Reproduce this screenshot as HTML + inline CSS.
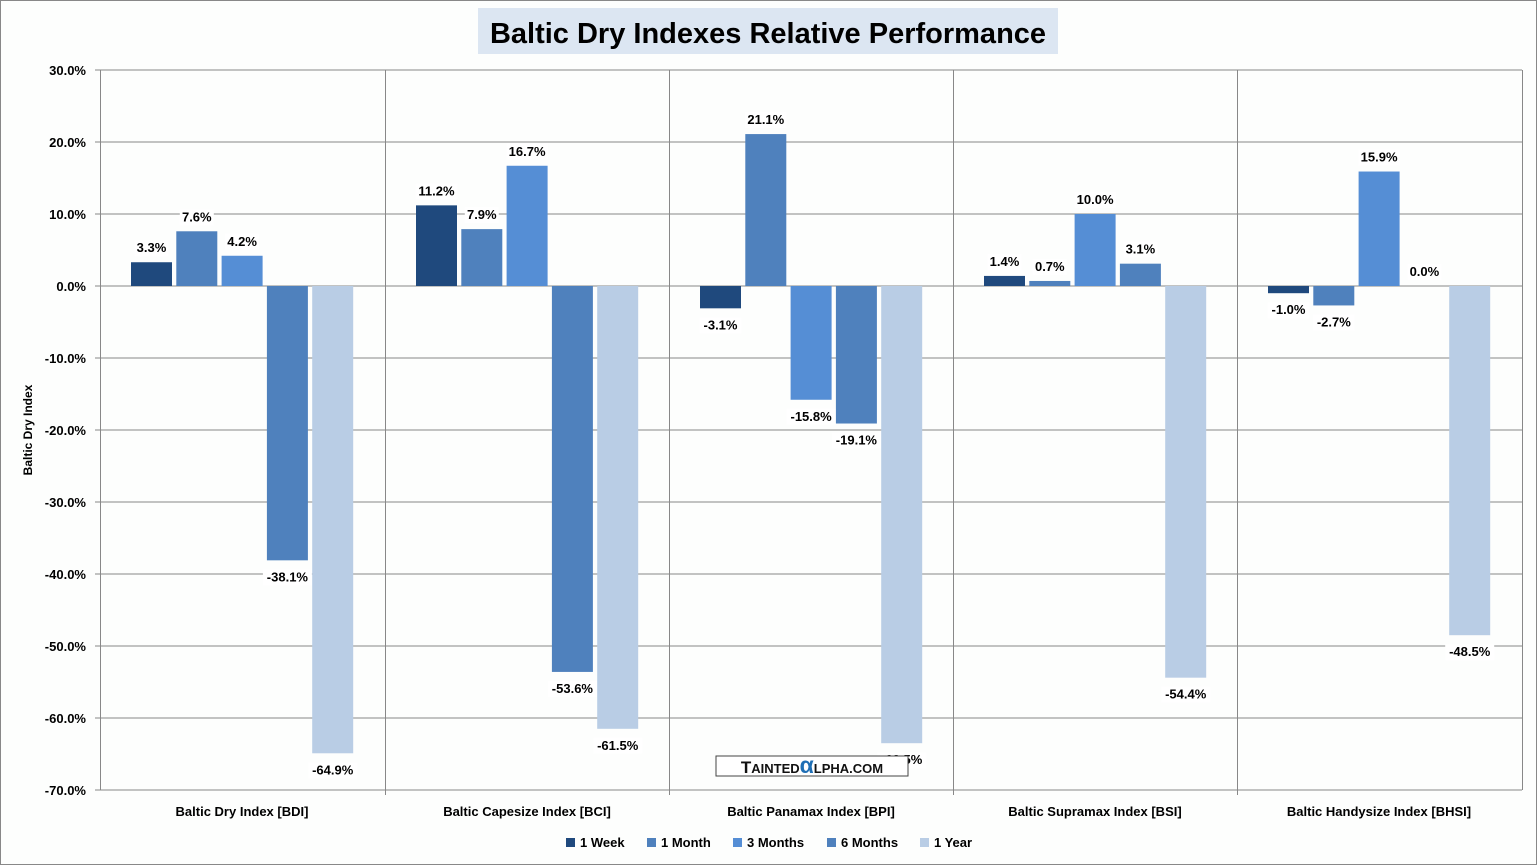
<!DOCTYPE html>
<html><head><meta charset="utf-8"><style>
body{margin:0;background:#fff;}
svg{display:block;font-family:"Liberation Sans",sans-serif;}
</style></head><body>
<svg id="c" width="1537" height="865" xmlns="http://www.w3.org/2000/svg">
<rect x="0.5" y="0.5" width="1536" height="864" fill="#fdfefd" stroke="#888"/>
<rect x="478" y="8" width="580" height="46" fill="#dce6f2"/>
<text x="768" y="43" font-size="29" font-weight="bold" text-anchor="middle" fill="#000">Baltic Dry Indexes Relative Performance</text>
<text transform="translate(32,430) rotate(-90)" font-size="12" font-weight="bold" text-anchor="middle">Baltic Dry  Index</text>
<g id="g"></g>
</svg>
<script>
var g=document.getElementById('g'),s='';
function y(v){return 286-v*7.2;}
for(var v=30;v>=-70;v-=10){var yy=y(v);s+='<line x1="95" x2="1522" y1="'+yy+'" y2="'+yy+'" stroke="#888"/>';
s+='<text x="86" y="'+(yy+5)+'" font-size="13" font-weight="bold" text-anchor="end">'+v.toFixed(1)+'%</text>';}
s+='<line x1="100.5" x2="100.5" y1="70" y2="790" stroke="#888"/>';
var bx=[100,385,669,953,1237,1522];
for(var i=0;i<6;i++)s+='<line x1="'+(bx[i]+.5)+'" x2="'+(bx[i]+.5)+'" y1="70" y2="'+(i==0||i==5?790:795)+'" stroke="#888"/>';
var names=['Baltic Dry Index [BDI]','Baltic Capesize Index [BCI]','Baltic Panamax Index [BPI]','Baltic Supramax Index [BSI]','Baltic Handysize Index [BHSI]'];
var data=[[3.3,7.6,4.2,-38.1,-64.9],[11.2,7.9,16.7,-53.6,-61.5],[-3.1,21.1,-15.8,-19.1,-63.5],[1.4,0.7,10.0,3.1,-54.4],[-1.0,-2.7,15.9,0.0,-48.5]];
var col=['#1f497d','#4f81bd','#558ed5','#4f81bd','#b9cde5'];
var lbl='';
for(var k=0;k<5;k++){var x0=bx[k];
s+='<text x="'+(x0+142)+'" y="816" font-size="13" font-weight="bold" text-anchor="middle">'+names[k]+'</text>';
for(var j=0;j<5;j++){var v=data[k][j],x=x0+31+j*45.3,t=Math.min(y(v),286),h=Math.abs(y(v)-286);
s+='<rect x="'+x+'" y="'+t+'" width="41" height="'+h+'" fill="'+col[j]+'"/>';
var ly=v>=0?y(v)-10:y(v)+21,tx=v.toFixed(1)+'%',w=tx.length*7.5+4;
lbl+='<rect x="'+(x+20.5-w/2)+'" y="'+(ly-12)+'" width="'+w+'" height="16" fill="#fff"/><text x="'+(x+20.5)+'" y="'+ly+'" font-size="13" font-weight="bold" text-anchor="middle">'+tx+'</text>';}}
s+=lbl;
s+='<rect x="716" y="756" width="192" height="20" fill="#fff" stroke="#444"/><text x="812" y="773" font-size="17" font-weight="bold" text-anchor="middle" fill="#111">T<tspan font-size="13">AINTED</tspan><tspan fill="#1f6fb5" font-size="23">α</tspan><tspan font-size="13">LPHA.COM</tspan></text>';
var L=[['1 Week',566],['1 Month',647],['3 Months',733],['6 Months',827],['1 Year',920]];
for(var j=0;j<5;j++){s+='<rect x="'+L[j][1]+'" y="838" width="9" height="9" fill="'+col[j]+'"/><text x="'+(L[j][1]+14)+'" y="847" font-size="13" font-weight="bold">'+L[j][0]+'</text>';}
g.innerHTML=s;
</script>
</body></html>
